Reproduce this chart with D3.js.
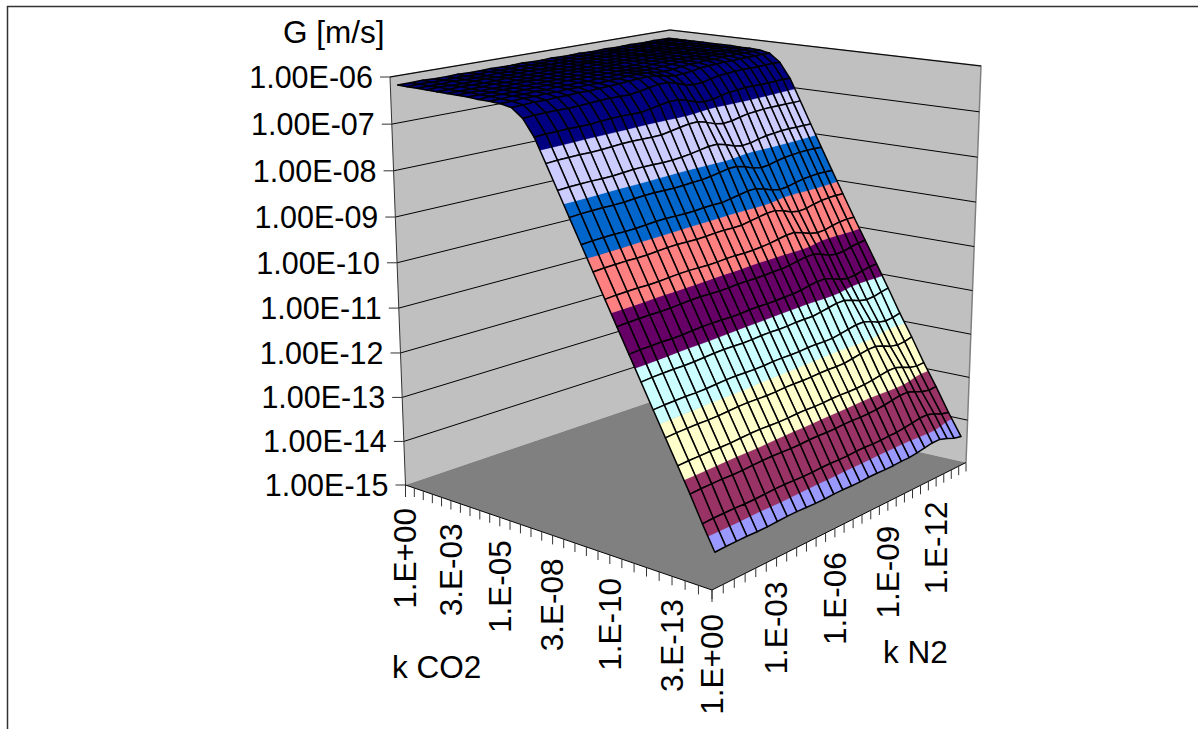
<!DOCTYPE html>
<html>
<head>
<meta charset="utf-8">
<script src="https://cdn.jsdelivr.net/npm/d3@7"></script>
<style>
  body { margin: 0; background: #fff; }
  text { font-family: "Liberation Sans", Arial, sans-serif; font-size: 31.5px; fill: #000; }
  text.zlabel { font-size: 30.5px; }
</style>
</head>
<body>
<script>
// k CO2 runs along the left floor edge, k N2 along the right one
const kCO2Labels = ["1.E+00", "3.E-03", "1.E-05", "3.E-08", "1.E-10", "3.E-13"];
const kN2Labels = ["1.E+00", "1.E-03", "1.E-06", "1.E-09", "1.E-12"];
const zTicks = [-6, -7, -8, -9, -10, -11, -12, -13, -14, -15];
const bandColors = ["#9999FF", "#993366", "#FFFFCC", "#CCFFFF", "#660066", "#FF8080", "#0066CC", "#CCCCFF", "#000080"];

// log10(G), one row per k CO2 category, one column per k N2 category
const logG = [
  [-6.18,-6.18,-6.17,-6.18,-6.18,-6.17,-6.18,-6.18,-6.17,-6.18,-6.18,-6.17,-6.18,-6.18,-6.17,-6.18,-6.18,-6.17,-6.18,-6.18,-6.17,-6.18,-6.18,-6.17,-6.18,-6.18,-6.17,-6.18,-6.18],
  [-6.18,-6.17,-6.18,-6.18,-6.17,-6.18,-6.18,-6.17,-6.18,-6.18,-6.17,-6.18,-6.18,-6.17,-6.18,-6.18,-6.17,-6.18,-6.18,-6.17,-6.18,-6.18,-6.17,-6.18,-6.18,-6.17,-6.18,-6.18,-6.18],
  [-6.18,-6.18,-6.18,-6.17,-6.18,-6.18,-6.18,-6.17,-6.18,-6.18,-6.18,-6.17,-6.18,-6.18,-6.18,-6.17,-6.18,-6.18,-6.18,-6.17,-6.18,-6.18,-6.18,-6.17,-6.18,-6.18,-6.18,-6.17,-6.18],
  [-6.18,-6.17,-6.18,-6.18,-6.18,-6.17,-6.18,-6.18,-6.18,-6.17,-6.18,-6.18,-6.18,-6.17,-6.18,-6.18,-6.18,-6.17,-6.18,-6.18,-6.18,-6.17,-6.18,-6.18,-6.18,-6.17,-6.18,-6.18,-6.18],
  [-6.18,-6.18,-6.17,-6.18,-6.18,-6.18,-6.17,-6.18,-6.18,-6.18,-6.17,-6.18,-6.18,-6.18,-6.17,-6.18,-6.18,-6.18,-6.17,-6.18,-6.18,-6.18,-6.17,-6.18,-6.18,-6.18,-6.17,-6.18,-6.18],
  [-6.18,-6.18,-6.18,-6.18,-6.17,-6.18,-6.18,-6.18,-6.18,-6.17,-6.18,-6.18,-6.18,-6.18,-6.17,-6.18,-6.18,-6.18,-6.18,-6.17,-6.18,-6.18,-6.18,-6.18,-6.17,-6.18,-6.18,-6.18,-6.18],
  [-6.18,-6.17,-6.18,-6.18,-6.18,-6.18,-6.17,-6.18,-6.18,-6.18,-6.18,-6.17,-6.18,-6.18,-6.18,-6.18,-6.17,-6.18,-6.18,-6.18,-6.18,-6.17,-6.18,-6.18,-6.18,-6.18,-6.17,-6.18,-6.18],
  [-6.18,-6.18,-6.18,-6.17,-6.18,-6.18,-6.18,-6.18,-6.18,-6.17,-6.18,-6.18,-6.18,-6.18,-6.18,-6.19,-6.19,-6.18,-6.18,-6.18,-6.18,-6.18,-6.17,-6.18,-6.18,-6.18,-6.18,-6.18,-6.18],
  [-6.19,-6.18,-6.18,-6.18,-6.18,-6.18,-6.18,-6.18,-6.17,-6.18,-6.18,-6.18,-6.18,-6.18,-6.19,-6.20,-6.20,-6.19,-6.18,-6.18,-6.18,-6.18,-6.18,-6.18,-6.18,-6.18,-6.18,-6.18,-6.19],
  [-6.19,-6.19,-6.18,-6.19,-6.18,-6.19,-6.18,-6.19,-6.18,-6.19,-6.18,-6.19,-6.18,-6.18,-6.19,-6.20,-6.21,-6.20,-6.19,-6.18,-6.19,-6.18,-6.19,-6.18,-6.19,-6.18,-6.19,-6.19,-6.19],
  [-6.20,-6.20,-6.19,-6.20,-6.19,-6.20,-6.19,-6.20,-6.19,-6.20,-6.19,-6.19,-6.18,-6.18,-6.19,-6.22,-6.24,-6.23,-6.21,-6.20,-6.20,-6.19,-6.20,-6.19,-6.20,-6.19,-6.20,-6.20,-6.20],
  [-6.24,-6.24,-6.23,-6.24,-6.23,-6.24,-6.23,-6.24,-6.23,-6.23,-6.22,-6.21,-6.20,-6.20,-6.22,-6.27,-6.30,-6.30,-6.28,-6.25,-6.24,-6.24,-6.23,-6.24,-6.23,-6.24,-6.24,-6.24,-6.25],
  [-6.42,-6.41,-6.41,-6.41,-6.42,-6.42,-6.41,-6.40,-6.40,-6.41,-6.42,-6.39,-6.36,-6.33,-6.33,-6.39,-6.47,-6.51,-6.50,-6.46,-6.43,-6.42,-6.41,-6.41,-6.42,-6.42,-6.42,-6.42,-6.43],
  [-6.76,-6.75,-6.75,-6.75,-6.76,-6.76,-6.75,-6.74,-6.74,-6.75,-6.76,-6.73,-6.70,-6.67,-6.67,-6.73,-6.81,-6.85,-6.84,-6.80,-6.77,-6.76,-6.75,-6.75,-6.76,-6.76,-6.76,-6.76,-6.77],
  [-7.25,-7.24,-7.24,-7.24,-7.25,-7.25,-7.24,-7.23,-7.23,-7.24,-7.25,-7.25,-7.22,-7.19,-7.16,-7.16,-7.22,-7.30,-7.34,-7.33,-7.29,-7.26,-7.25,-7.24,-7.24,-7.25,-7.25,-7.26,-7.26],
  [-7.75,-7.74,-7.74,-7.74,-7.75,-7.75,-7.74,-7.73,-7.73,-7.74,-7.75,-7.75,-7.74,-7.72,-7.69,-7.66,-7.66,-7.72,-7.80,-7.84,-7.83,-7.79,-7.76,-7.75,-7.74,-7.74,-7.75,-7.75,-7.76],
  [-8.25,-8.24,-8.24,-8.24,-8.25,-8.25,-8.24,-8.23,-8.23,-8.24,-8.25,-8.25,-8.24,-8.24,-8.22,-8.19,-8.16,-8.16,-8.22,-8.30,-8.34,-8.33,-8.29,-8.26,-8.25,-8.24,-8.24,-8.25,-8.26],
  [-8.75,-8.74,-8.74,-8.74,-8.75,-8.75,-8.74,-8.73,-8.73,-8.74,-8.75,-8.75,-8.74,-8.74,-8.75,-8.72,-8.69,-8.66,-8.66,-8.72,-8.80,-8.84,-8.83,-8.79,-8.76,-8.75,-8.74,-8.75,-8.76],
  [-9.25,-9.24,-9.24,-9.24,-9.25,-9.25,-9.24,-9.23,-9.23,-9.24,-9.25,-9.25,-9.24,-9.24,-9.25,-9.25,-9.22,-9.19,-9.16,-9.16,-9.22,-9.30,-9.34,-9.33,-9.29,-9.26,-9.25,-9.25,-9.26],
  [-9.75,-9.74,-9.74,-9.74,-9.75,-9.75,-9.74,-9.73,-9.73,-9.74,-9.75,-9.75,-9.74,-9.74,-9.75,-9.75,-9.74,-9.72,-9.69,-9.66,-9.66,-9.72,-9.80,-9.84,-9.83,-9.79,-9.76,-9.75,-9.76],
  [-10.25,-10.24,-10.24,-10.24,-10.25,-10.25,-10.24,-10.23,-10.23,-10.24,-10.25,-10.25,-10.24,-10.24,-10.25,-10.25,-10.24,-10.24,-10.22,-10.19,-10.16,-10.16,-10.22,-10.30,-10.34,-10.33,-10.29,-10.26,-10.25],
  [-10.75,-10.74,-10.74,-10.74,-10.75,-10.75,-10.74,-10.73,-10.73,-10.74,-10.75,-10.75,-10.74,-10.74,-10.75,-10.75,-10.74,-10.74,-10.72,-10.69,-10.66,-10.66,-10.72,-10.80,-10.84,-10.83,-10.79,-10.76,-10.75],
  [-11.25,-11.24,-11.24,-11.24,-11.25,-11.25,-11.24,-11.23,-11.23,-11.24,-11.25,-11.25,-11.24,-11.24,-11.25,-11.25,-11.24,-11.24,-11.25,-11.22,-11.19,-11.16,-11.16,-11.22,-11.30,-11.34,-11.33,-11.29,-11.26],
  [-11.75,-11.74,-11.74,-11.74,-11.75,-11.75,-11.74,-11.73,-11.73,-11.74,-11.75,-11.75,-11.74,-11.74,-11.75,-11.75,-11.74,-11.74,-11.75,-11.75,-11.72,-11.69,-11.66,-11.66,-11.72,-11.80,-11.84,-11.83,-11.79],
  [-12.25,-12.24,-12.24,-12.24,-12.25,-12.25,-12.24,-12.23,-12.23,-12.24,-12.25,-12.25,-12.24,-12.24,-12.25,-12.25,-12.24,-12.24,-12.25,-12.25,-12.22,-12.19,-12.16,-12.16,-12.22,-12.30,-12.34,-12.33,-12.29],
  [-12.75,-12.74,-12.74,-12.74,-12.75,-12.75,-12.74,-12.73,-12.73,-12.74,-12.75,-12.75,-12.74,-12.74,-12.75,-12.75,-12.74,-12.74,-12.75,-12.75,-12.74,-12.72,-12.69,-12.66,-12.66,-12.72,-12.80,-12.84,-12.83],
  [-13.25,-13.24,-13.24,-13.24,-13.25,-13.25,-13.24,-13.23,-13.23,-13.24,-13.25,-13.25,-13.24,-13.24,-13.25,-13.25,-13.24,-13.24,-13.25,-13.25,-13.24,-13.22,-13.19,-13.16,-13.16,-13.22,-13.30,-13.34,-13.33],
  [-13.78,-13.77,-13.77,-13.77,-13.78,-13.78,-13.77,-13.76,-13.76,-13.77,-13.78,-13.78,-13.77,-13.77,-13.78,-13.78,-13.77,-13.77,-13.78,-13.78,-13.77,-13.77,-13.75,-13.72,-13.69,-13.69,-13.75,-13.83,-13.87],
  [-14.28,-14.27,-14.27,-14.27,-14.28,-14.28,-14.27,-14.26,-14.26,-14.27,-14.28,-14.28,-14.27,-14.27,-14.28,-14.28,-14.27,-14.27,-14.28,-14.28,-14.27,-14.27,-14.25,-14.22,-14.19,-14.19,-14.25,-14.33,-14.37]
];

const width = 1198, height = 729;
const nCO2 = logG.length, nN2 = logG[0].length;

// screen corners of the 3d box, w is the depth weight that gives the perspective
const box = {
  L0: [405.5, 485, 1.25], F0: [712, 590, 1], R0: [966, 462.5, 1.25], B0: [668.7, 395.8, 1.62],
  L1: [390, 77, 1.196], F1: [732, 135, 0.946], R1: [981, 66, 1.196], B1: [670, 30, 1.58]
};

const uScale = d3.scaleLinear().domain([0, nCO2 - 1]).range([0.008, 0.992]);
const vScale = d3.scaleLinear().domain([0, nN2 - 1]).range([0.014, 0.986]);
const uAxis = d3.scaleLinear().domain([0, nCO2 - 1]).range([0, 1]);
const vAxis = d3.scaleLinear().domain([0, nN2 - 1]).range([0, 1]);
const zScale = d3.scaleLinear().domain([-15, -6]).range([0, 1]);

function project(u, v, z) {
  let sx = 0, sy = 0, sw = 0;
  [["L", (1 - u) * (1 - v)], ["F", u * (1 - v)], ["R", u * v], ["B", (1 - u) * v]].forEach(([name, t]) => {
    [[box[name + "0"], 1 - z], [box[name + "1"], z]].forEach(([c, s]) => {
      const k = t * s * c[2];
      sx += k * c[0]; sy += k * c[1]; sw += k;
    });
  });
  return [sx / sw, sy / sw];
}

// cut a cell [{u, v, g}] to the part lying in the band lo..hi
function clipBand(poly, lo, hi) {
  const cut = (pts, inside, level) => {
    const out = [];
    pts.forEach((a, k) => {
      const b = pts[(k + 1) % pts.length];
      if (inside(a)) out.push(a);
      if (inside(a) !== inside(b)) {
        const t = (level - a.g) / (b.g - a.g);
        out.push({ u: a.u + t * (b.u - a.u), v: a.v + t * (b.v - a.v), g: level });
      }
    });
    return out;
  };
  let res = cut(poly, p => p.g >= lo, lo);
  if (res.length) res = cut(res, p => p.g <= hi, hi);
  return res;
}

const svg = d3.select("body").append("svg").attr("width", width).attr("height", height).style("display", "block");
const line = d3.line();

svg.append("rect").attr("x", 7.5).attr("y", 6.5).attr("width", 1400).attr("height", 1000)
  .attr("fill", "#fff").attr("stroke", "#333").attr("stroke-width", 1.5);

// walls and floor
const leftWall = [[0, 0, 0], [0, 0, 1], [0, 1, 1], [0, 1, 0]];
const rightWall = [[0, 1, 0], [0, 1, 1], [1, 1, 1], [1, 1, 0]];
const floor = [[0, 0, 0], [1, 0, 0], [1, 1, 0], [0, 1, 0]];
[leftWall, rightWall].forEach(w => {
  svg.append("path").attr("d", line(w.map(p => project(...p))) + "Z").attr("fill", "#C0C0C0");
});
svg.append("path").attr("d", line(floor.map(p => project(...p))) + "Z").attr("fill", "#808080");
svg.append("path").attr("d", line([[0, 0, 1], [0, 1, 1], [1, 1, 1], [1, 1, 0]].map(p => project(...p))))
  .attr("fill", "none").attr("stroke", "#808080").attr("stroke-width", 1.5);

// wall gridlines
svg.selectAll("path.grid").data(zTicks.slice(0, -1)).join("path").attr("class", "grid")
  .attr("d", d => line([[0, 0, zScale(d)], [0, 1, zScale(d)], [1, 1, zScale(d)]].map(p => project(...p))))
  .attr("fill", "none").attr("stroke", "#000").attr("stroke-width", 1);

// surface, back corner first
const cells = [];
for (let i = 0; i < nCO2 - 1; i++) {
  for (let j = nN2 - 2; j >= 0; j--) {
    cells.push([[i, j], [i + 1, j], [i + 1, j + 1], [i, j + 1]].map(([a, b]) => ({
      u: uScale(a), v: vScale(b), g: logG[a][b]
    })));
  }
}
const cellG = svg.append("g").selectAll("g").data(cells).join("g");
cellG.each(function (cell) {
  const g = d3.select(this);
  bandColors.forEach((color, b) => {
    const part = clipBand(cell, -15 + b, -14 + b);
    if (part.length < 3) return;
    g.append("path").attr("d", line(part.map(p => project(p.u, p.v, zScale(p.g)))) + "Z")
      .attr("fill", color).attr("stroke", color).attr("stroke-width", 0.4);
  });
  g.append("path").attr("d", line(cell.map(p => project(p.u, p.v, zScale(p.g)))) + "Z")
    .attr("fill", "none").attr("stroke", "#000").attr("stroke-width", 1.5).attr("stroke-linejoin", "round");
});

// vertical axis
svg.append("path").attr("d", line([[0, 0, 0], [0, 0, 1]].map(p => project(...p))))
  .attr("stroke", "#333").attr("stroke-width", 1).attr("fill", "none");
const zAxis = svg.append("g").selectAll("g").data(zTicks).join("g")
  .attr("transform", d => `translate(${project(0, 0, zScale(d))})`);
zAxis.append("line").attr("x1", -10).attr("x2", 0).attr("stroke", "#333").attr("stroke-width", 1);
zAxis.append("text").attr("class", "zlabel").attr("x", -17).attr("y", 10.8).attr("text-anchor", "end")
  .text(d => "1.00E-" + String(-d).padStart(2, "0"));

// floor axes
function floorAxis(count, pos, labels, every, dy) {
  svg.append("path").attr("d", line([pos(0), pos(count - 1)])).attr("stroke", "#000").attr("fill", "none");
  svg.append("g").selectAll("line").data(d3.range(count)).join("line")
    .attr("x1", d => pos(d)[0]).attr("x2", d => pos(d)[0])
    .attr("y1", d => pos(d)[1]).attr("y2", d => pos(d)[1] + (d === 0 ? 12 : 9))
    .attr("stroke", "#333").attr("stroke-width", 1);
  svg.append("g").selectAll("text").data(labels).join("text")
    .attr("text-anchor", "end")
    .attr("transform", (d, k) => {
      const p = pos(k * every);
      return `translate(${p[0] + 10.8},${p[1] + dy}) rotate(-90)`;
    })
    .text(d => d);
}
floorAxis(nCO2, d => project(uAxis(d), 0, 0), kCO2Labels, 5, 23);
floorAxis(nN2, d => project(1, vAxis(d), 0), kN2Labels, 6, 24);

// axis titles
svg.append("text").attr("x", 283).attr("y", 43).text("G [m/s]");
svg.append("text").attr("x", 392).attr("y", 678).text("k CO2");
svg.append("text").attr("x", 883).attr("y", 663).text("k N2");
</script>
</body>
</html>
